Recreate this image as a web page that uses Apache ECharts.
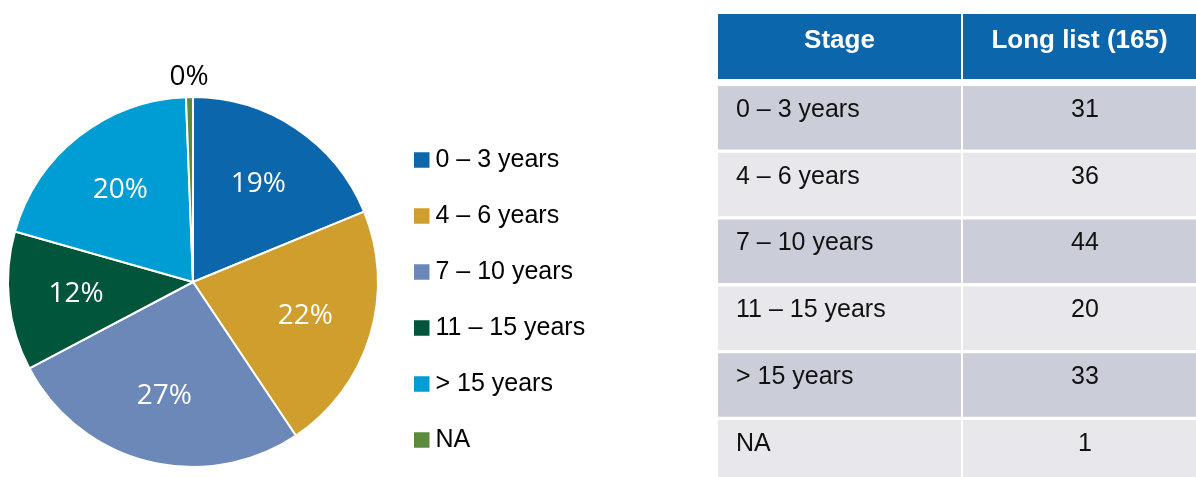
<!DOCTYPE html>
<html><head><meta charset="utf-8">
<script src="https://cdn.jsdelivr.net/npm/echarts@6/dist/echarts.min.js"></script>
<style>html,body{margin:0;padding:0;background:#fff}#c{width:1196px;height:477px}</style>
</head><body><div id="c"></div>
<script>
// ---- data ----
const categories = ['0 – 3 years', '4 – 6 years', '7 – 10 years', '11 – 15 years', '> 15 years', 'NA'];
const counts = [31, 36, 44, 20, 33, 1];
const pctLabels = ['19%', '22%', '27%', '12%', '20%', '0%'];
const tableHeader = ['Stage', 'Long list (165)'];

// ---- styles ----
const colors = ['#0C66AB', '#D09E2C', '#6C88B8', '#00553A', '#009CD4', '#5B8B3D'];
const headerColor = '#0C66AB';
const rowColors = ['#CBCED8', '#E7E7EC'];
const CX = 193, CY = 282, R = 185;

const chart = echarts.init(document.getElementById('c'), null, {renderer: 'canvas'});

// table layout
const T = {left: 718, c1Right: 961, c2Left: 963, right: 1196, headTop: 14, headH: 65,
           rowTop: 86, pitch: 66.8, rowH: 63.5, textX1: 736, textX2: 1085};
const graphics = [];
graphics.push({type: 'rect', shape: {x: T.left, y: T.headTop, width: T.c1Right - T.left, height: T.headH}, style: {fill: headerColor}, silent: true});
graphics.push({type: 'rect', shape: {x: T.c2Left, y: T.headTop, width: T.right - T.c2Left, height: T.headH}, style: {fill: headerColor}, silent: true});
graphics.push({type: 'text', x: (T.left + T.c1Right) / 2, y: 41, style: {text: tableHeader[0], fill: '#fff', font: 'bold 26px "Liberation Sans", Arial, sans-serif', align: 'center', verticalAlign: 'middle'}, silent: true});
graphics.push({type: 'text', x: (T.c2Left + T.right) / 2, y: 41, style: {text: tableHeader[1], fill: '#fff', font: 'bold 26px "Liberation Sans", Arial, sans-serif', align: 'center', verticalAlign: 'middle'}, silent: true});
categories.forEach((name, i) => {
  const top = T.rowTop + i * T.pitch;
  const fill = rowColors[i % 2];
  graphics.push({type: 'rect', shape: {x: T.left, y: top, width: T.c1Right - T.left, height: T.rowH}, style: {fill}, silent: true});
  graphics.push({type: 'rect', shape: {x: T.c2Left, y: top, width: T.right - T.c2Left, height: T.rowH}, style: {fill}, silent: true});
  graphics.push({type: 'text', x: T.textX1, y: top + 24, style: {text: name, fill: '#111', font: '25px "Liberation Sans", Arial, sans-serif', align: 'left', verticalAlign: 'middle'}, silent: true});
  graphics.push({type: 'text', x: T.textX2, y: top + 24, style: {text: String(counts[i]), fill: '#111', font: '25px "Liberation Sans", Arial, sans-serif', align: 'center', verticalAlign: 'middle'}, silent: true});
});

const option = {
  animation: false,
  backgroundColor: '#fff',
  legend: {
    orient: 'vertical', left: 407, top: 142.5,
    itemWidth: 17.5, itemHeight: 17.5, itemGap: 31, icon: 'rect',
    selectedMode: false,
    textStyle: {fontFamily: '"Liberation Sans", Arial, sans-serif', fontSize: 25, color: '#000'},
    data: categories
  },
  series: [{
    type: 'pie',
    center: [CX, CY],
    radius: [0, R],
    startAngle: 90,
    clockwise: true,
    silent: true,
    itemStyle: {borderColor: '#fff', borderWidth: 2},
    label: {
      show: true, position: 'inside',
      formatter: p => pctLabels[p.dataIndex],
      fontFamily: '"Open Sans", sans-serif', fontSize: 28, color: '#fff'
    },
    labelLine: {show: false},
    labelLayout: function (p) {
      const lr = p.labelRect;
      const mx = lr.x + lr.width / 2, my = lr.y + lr.height / 2;
      const dx = mx - CX, dy = my - CY;
      const d = Math.hypot(dx, dy) || 1;
      const target = categories[p.dataIndex] === 'NA' ? R + 20 : R * 0.635;
      return {x: CX + dx / d * target, y: CY + dy / d * target, align: 'center', verticalAlign: 'middle'};
    },
    data: categories.map((name, i) => ({
      name, value: counts[i],
      itemStyle: {color: colors[i]},
      label: {color: name === 'NA' ? '#000' : '#fff'}
    }))
  }],
  graphic: graphics
};
chart.setOption(option);
</script>
</body></html>
